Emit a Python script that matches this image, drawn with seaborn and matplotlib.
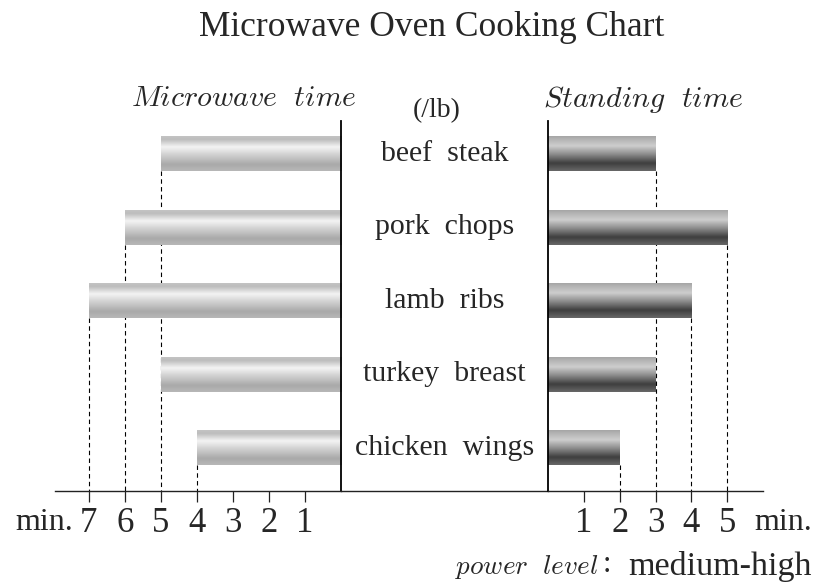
import numpy as np
import pandas as pd
import matplotlib
matplotlib.use("Agg")
import matplotlib.pyplot as plt
from matplotlib.colors import LinearSegmentedColormap
import seaborn as sns

# ---------------- data ----------------
foods = ["beef steak", "pork chops", "lamb ribs", "turkey breast", "chicken wings"]
microwave_min = [5, 6, 7, 5, 4]
standing_min = [3, 5, 4, 3, 2]
left_ticks = [7, 6, 5, 4, 3, 2, 1]
right_ticks = [1, 2, 3, 4, 5]
title = "Microwave Oven Cooking Chart"

sns.set_style("white")
plt.rcParams["font.family"] = ["Liberation Serif", "DejaVu Serif"]
plt.rcParams["mathtext.fontset"] = "cm"

W, H = 831, 582
fig = plt.figure(figsize=(W / 100, H / 100), dpi=100)

def rect(x0, x1, ytop, ybot):
    return [x0 / W, 1 - ybot / H, (x1 - x0) / W, (ybot - ytop) / H]

Y_TOP, Y_BOT = 121, 490.5
axL = fig.add_axes(rect(55, 341, Y_TOP, Y_BOT))
axM = fig.add_axes(rect(341, 548, Y_TOP, Y_BOT))
axR = fig.add_axes(rect(548, 763, Y_TOP, Y_BOT))

df = pd.DataFrame({"food": foods, "micro": microwave_min, "stand": standing_min})

BAR_W = 0.48
sns.barplot(data=df, x="micro", y="food", orient="h", ax=axL, color="#cccccc",
            width=BAR_W, linewidth=0)
sns.barplot(data=df, x="stand", y="food", orient="h", ax=axR, color="#888888",
            width=BAR_W, linewidth=0)

YLIM = (4.58, -0.445)
for ax in (axL, axM, axR):
    ax.set_ylim(*YLIM)
    ax.set_ylabel("")
    ax.set_xlabel("")
    ax.set_yticks([])
    for s in ax.spines.values():
        s.set_visible(False)
    ax.patch.set_alpha(0)

axL.set_xlim(7.94, 0)
axR.set_xlim(0, 6.0)
axM.set_xlim(0, 1)

cmapL = LinearSegmentedColormap.from_list("l", [
    (0.0, "#c6c6c6"), (0.12, "#bcbcbc"), (0.33, "#f4f4f4"),
    (0.55, "#d0d0d0"), (0.82, "#a9a9a9"), (1.0, "#b8b8b8")])
cmapR = LinearSegmentedColormap.from_list("r", [
    (0.0, "#a2a2a2"), (0.3, "#cecece"), (0.55, "#878787"),
    (0.78, "#3e3e3e"), (1.0, "#686868")])

grad = np.linspace(0, 1, 256).reshape(-1, 1)

def gradient_bars(ax, cmap, xlim):
    for p in list(ax.patches):
        x0, y0 = p.get_x(), p.get_y()
        w, h = p.get_width(), p.get_height()
        p.set_facecolor("none")
        im = ax.imshow(grad, cmap=cmap, aspect="auto", origin="upper",
                       extent=(x0, x0 + w, y0 + h, y0), zorder=2,
                       interpolation="bicubic")
        im.set_clip_path(p)
    ax.set_xlim(*xlim)
    ax.set_ylim(*YLIM)

gradient_bars(axL, cmapL, (7.94, 0))
gradient_bars(axR, cmapR, (0, 6.0))

# dashed guide lines: one per distinct value, from the topmost bar end to the axis
def guides(ax, values):
    xs, starts = [], []
    for v in sorted(set(values)):
        first = values.index(v)
        xs.append(v)
        starts.append(first + BAR_W / 2)
    ax.vlines(xs, starts, YLIM[0], colors="black",
              linestyles=(0, (4, 3)), linewidth=0.8, zorder=1)

guides(axL, microwave_min)
guides(axR, standing_min)

# spines
axL.spines["right"].set_visible(True)
axL.spines["right"].set_linewidth(1.3)
axL.spines["right"].set_color("black")
axR.spines["left"].set_visible(True)
axR.spines["left"].set_linewidth(1.3)
axR.spines["left"].set_color("black")
for ax in (axL, axM, axR):
    ax.spines["bottom"].set_visible(True)
    ax.spines["bottom"].set_linewidth(1.0)
    ax.spines["bottom"].set_color("#222222")

TICK_FS = 25
axL.set_xticks(left_ticks)
axL.set_xticklabels([str(t) for t in left_ticks], fontsize=TICK_FS)
axR.set_xticks(right_ticks)
axR.set_xticklabels([str(t) for t in right_ticks], fontsize=TICK_FS)
for ax in (axL, axR):
    ax.tick_params(axis="x", direction="out", length=8, width=0.9,
                   color="#222222", pad=4, bottom=True)
axM.set_xticks([])

# category labels
for i, f in enumerate(foods):
    axM.text(0.5, i, f.replace(" ", "  "), ha="center", va="center",
             fontsize=21.5)

def ftext(x, y, s, **kw):
    fig.text(x / W, 1 - y / H, s, **kw)

ftext(432, 28, title, ha="center", va="center", fontsize=25.5)
ftext(244, 99, r"$Microwave\ \ time$", ha="center", va="center", fontsize=21.5)
ftext(643, 99, r"$Standing\ \ time$", ha="center", va="center", fontsize=21.5)
ftext(437, 111, "(/lb)", ha="center", va="center", fontsize=20)
ftext(73, 522, "min.", ha="right", va="center", fontsize=23)
ftext(754, 522, "min.", ha="left", va="center", fontsize=23)
ftext(598, 567, r"$power\ \ level$", ha="right", va="center", fontsize=19.5)
ftext(607, 564, ":", ha="center", va="center", fontsize=22)
ftext(812, 566, "medium-high", ha="right", va="center", fontsize=24.5)

fig.savefig("out.png", dpi=100)
